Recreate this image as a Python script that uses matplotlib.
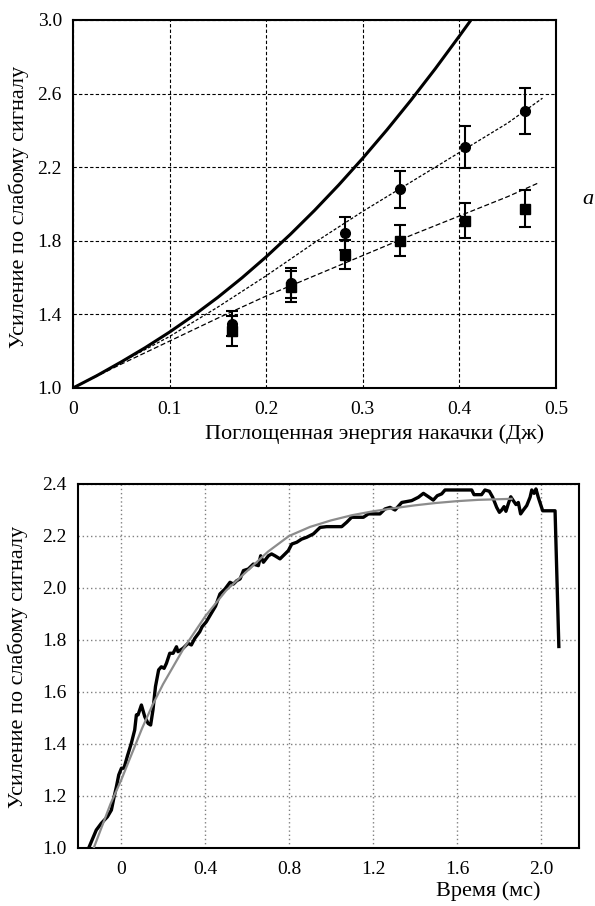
import matplotlib
matplotlib.use("Agg")
import matplotlib.pyplot as plt
import numpy as np

plt.rcParams['font.family'] = ['Liberation Serif', 'DejaVu Serif']

# ---------------- top panel data ----------------
E_theory = [0, 0.025, 0.05, 0.075, 0.1, 0.125, 0.15, 0.175, 0.2, 0.225, 0.25,
            0.275, 0.3, 0.325, 0.35, 0.375, 0.4, 0.412]
G_theory = [1.000, 1.068, 1.142, 1.220, 1.304, 1.395, 1.493, 1.599, 1.713,
            1.835, 1.965, 2.103, 2.249, 2.403, 2.565, 2.735, 2.913, 3.000]

E_fit_c = [0, 0.05, 0.1, 0.15, 0.2, 0.25, 0.3, 0.35, 0.4, 0.45, 0.486]
G_fit_c = [1.00, 1.14, 1.28, 1.44, 1.61, 1.79, 1.96, 2.12, 2.28, 2.44, 2.575]

E_fit_s = [0, 0.05, 0.1, 0.15, 0.2, 0.25, 0.3, 0.35, 0.4, 0.45, 0.482]
G_fit_s = [1.00, 1.13, 1.255, 1.38, 1.50, 1.61, 1.72, 1.83, 1.935, 2.04, 2.115]

E_circ = [0.165, 0.2255, 0.2815, 0.338, 0.406, 0.468]
G_circ = [1.35, 1.57, 1.84, 2.08, 2.31, 2.505]
err_circ = [0.07, 0.08, 0.09, 0.10, 0.115, 0.125]

E_sq = [0.165, 0.2255, 0.2815, 0.339, 0.406, 0.468]
G_sq = [1.31, 1.55, 1.725, 1.80, 1.91, 1.975]
err_sq = [0.08, 0.085, 0.08, 0.085, 0.095, 0.10]

top_xticks = [0, 0.1, 0.2, 0.3, 0.4, 0.5]
top_xticklabels = ['0', '0.1', '0.2', '0.3', '0.4', '0.5']
top_yticks = [1.0, 1.4, 1.8, 2.2, 2.6, 3.0]

# ---------------- bottom panel data ----------------
t_meas = [-0.154, -0.118, -0.094, -0.065, -0.046, -0.033, -0.022, -0.011, 0.002,
          0.014, 0.030, 0.049, 0.065, 0.073, 0.081, 0.097, 0.113, 0.129, 0.141,
          0.152, 0.164, 0.179, 0.192, 0.205, 0.216, 0.232, 0.248, 0.264, 0.271,
          0.295, 0.319, 0.335, 0.351, 0.375, 0.386, 0.406, 0.430, 0.450, 0.471,
          0.495, 0.519, 0.535, 0.551, 0.567, 0.583, 0.606, 0.630, 0.654, 0.665,
          0.678, 0.702, 0.717, 0.733, 0.757, 0.781, 0.797, 0.813, 0.837, 0.860,
          0.884, 0.916, 0.948, 0.979, 1.051, 1.075, 1.098, 1.154, 1.178, 1.233,
          1.257, 1.281, 1.305, 1.337, 1.384, 1.416, 1.440, 1.464, 1.487, 1.506,
          1.527, 1.543, 1.670, 1.681, 1.717, 1.733, 1.754, 1.770, 1.789, 1.802,
          1.813, 1.824, 1.833, 1.844, 1.856, 1.868, 1.881, 1.892, 1.903, 1.916,
          1.932, 1.948, 1.956, 1.967, 1.976, 1.987, 2.008, 2.067, 2.085]
G_meas = [1.000, 1.069, 1.095, 1.120, 1.146, 1.197, 1.236, 1.281, 1.307,
          1.307, 1.353, 1.403, 1.454, 1.512, 1.512, 1.550, 1.505, 1.479, 1.473,
          1.531, 1.621, 1.685, 1.697, 1.691, 1.710, 1.749, 1.749, 1.774, 1.755,
          1.768, 1.787, 1.781, 1.806, 1.832, 1.851, 1.870, 1.903, 1.930, 1.977,
          1.996, 2.022, 2.015, 2.028, 2.035, 2.067, 2.073, 2.092, 2.086, 2.124,
          2.099, 2.124, 2.131, 2.124, 2.112, 2.131, 2.144, 2.169, 2.176, 2.188,
          2.195, 2.208, 2.233, 2.236, 2.236, 2.253, 2.272, 2.272, 2.285, 2.285,
          2.304, 2.310, 2.300, 2.329, 2.336, 2.349, 2.364, 2.351, 2.338, 2.355,
          2.362, 2.377, 2.377, 2.359, 2.359, 2.377, 2.372, 2.349, 2.310, 2.291,
          2.300, 2.313, 2.295, 2.323, 2.351, 2.336, 2.321, 2.329, 2.285, 2.300,
          2.317, 2.349, 2.377, 2.364, 2.381, 2.349, 2.297, 2.297, 1.775]

t_fit = [-0.13, -0.05, 0.0, 0.05, 0.1, 0.15, 0.2, 0.3, 0.4, 0.5, 0.6, 0.7, 0.8,
         0.9, 1.0, 1.1, 1.2, 1.3, 1.4, 1.5, 1.6, 1.7, 1.86]
G_fit = [1.00, 1.17, 1.26, 1.36, 1.46, 1.55, 1.63, 1.77, 1.89, 1.99, 2.065,
         2.14, 2.20, 2.235, 2.26, 2.28, 2.295, 2.307, 2.318, 2.327, 2.334,
         2.339, 2.343]

bot_xticks = [0, 0.4, 0.8, 1.2, 1.6, 2.0]
bot_xticklabels = ['0', '0.4', '0.8', '1.2', '1.6', '2.0']
bot_yticks = [1.0, 1.2, 1.4, 1.6, 1.8, 2.0, 2.2, 2.4]

ylabel_text = 'Усиление по слабому сигналу'

W, H = 595, 906
fig = plt.figure(figsize=(W / 100, H / 100), dpi=100)


def fx(px):
    return px / W


def fy(py):
    return (H - py) / H


TICK_FS = 14
LABEL_FS = 16

# ---------------- top axes ----------------
ax1 = fig.add_axes([73 / W, (H - 388) / H, 483 / W, 368 / H])
ax1.set_xlim(0, 0.5)
ax1.set_ylim(1.0, 3.0)
ax1.set_xticks(top_xticks)
ax1.set_xticklabels(top_xticklabels)
ax1.set_yticks(top_yticks)
ax1.set_yticklabels([f'{v:.1f}' for v in top_yticks])
ax1.grid(True, color='black', linestyle=(0, (3, 2)), linewidth=0.8)
ax1.set_axisbelow(True)
ax1.tick_params(axis='x', length=0, labelsize=TICK_FS, pad=9)
ax1.tick_params(axis='y', length=0, labelsize=TICK_FS, pad=8)
for s in ax1.spines.values():
    s.set_linewidth(1.5)

ax1.plot(E_theory, G_theory, color='black', linewidth=2.2, zorder=3)
ax1.plot(E_fit_c, G_fit_c, color='black', linewidth=0.9,
         linestyle=(0, (2.5, 1.5)), zorder=3)
ax1.plot(E_fit_s, G_fit_s, color='black', linewidth=0.9,
         linestyle=(0, (4, 2)), zorder=3)
ax1.errorbar(E_circ, G_circ, yerr=err_circ, fmt='o', color='black',
             markersize=7, elinewidth=1.5, capsize=4, capthick=1.5, zorder=4)
ax1.errorbar(E_sq, G_sq, yerr=err_sq, fmt='s', color='black',
             markersize=7, elinewidth=1.5, capsize=4, capthick=1.5, zorder=4)

fig.text(fx(19), fy(207), ylabel_text, rotation=90, fontsize=LABEL_FS,
         ha='center', va='center')
fig.text(fx(375), fy(434), 'Поглощенная энергия накачки (Дж)',
         fontsize=LABEL_FS, ha='center', va='center')
fig.text(fx(588), fy(200), 'a', fontsize=LABEL_FS, style='italic',
         ha='center', va='center')

# ---------------- bottom axes ----------------
ax2 = fig.add_axes([78 / W, (H - 848) / H, 501 / W, 364 / H])
ax2.set_xlim(-0.205, 2.181)
ax2.set_ylim(1.0, 2.4)
ax2.set_xticks(bot_xticks)
ax2.set_xticklabels(bot_xticklabels)
ax2.set_yticks(bot_yticks)
ax2.set_yticklabels([f'{v:.1f}' for v in bot_yticks])
ax2.grid(True, color='#808080', linestyle=(0, (1, 2)), linewidth=1.0)
ax2.set_axisbelow(True)
ax2.tick_params(axis='x', length=0, labelsize=TICK_FS, pad=9)
ax2.tick_params(axis='y', length=0, labelsize=TICK_FS, pad=8)
for s in ax2.spines.values():
    s.set_linewidth(1.5)

ax2.plot(t_meas, G_meas, color='black', linewidth=2.4, zorder=3)
ax2.plot(t_fit, G_fit, color='#8c8c8c', linewidth=1.6, zorder=4)

fig.text(fx(18), fy(667), ylabel_text, rotation=90, fontsize=LABEL_FS,
         ha='center', va='center')
fig.text(fx(488), fy(891), 'Время (мс)', fontsize=LABEL_FS,
         ha='center', va='center')

fig.savefig('out.png', dpi=100)
